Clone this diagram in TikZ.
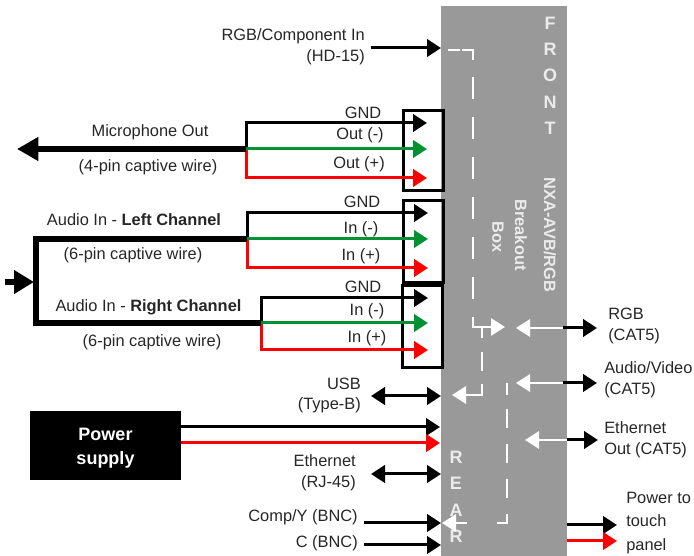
\documentclass[tikz,border=0pt]{standalone}
\usepackage{fontspec}
\setmainfont{Liberation Sans}
\usetikzlibrary{arrows.meta, positioning}
\definecolor{panelgray}{RGB}{153,153,153}
\definecolor{wiregreen}{RGB}{0,146,50}
\tikzstyle{panel} = [rectangle, fill=panelgray, minimum width=94.5pt, minimum height=412.5pt, inner sep=0pt]
\tikzstyle{port} = [rectangle, draw=black, line width=2.25pt, minimum width=30pt, inner sep=0pt, outer sep=0pt]
\tikzstyle{supply} = [rectangle, fill=black, text=white, font=\fontsize{13.5}{18}\selectfont\bfseries, align=center, minimum width=113pt, minimum height=52pt, inner sep=0pt]
\tikzstyle{label} = [font=\fontsize{12.3}{15.7}\selectfont, text=black!85, inner sep=0pt, align=center]
\tikzstyle{paneltext} = [font=\fontsize{12.3}{13}\selectfont\bfseries, text=white!92!black, inner sep=0pt]
\tikzstyle{letter} = [font=\fontsize{13.5}{14}\selectfont\bfseries, text=white!92!black, inner sep=0pt]
\tikzstyle{wire} = [line width=2.25pt, -{Triangle[length=10.5pt,width=13pt]}]
\tikzstyle{both} = [line width=2.25pt, {Triangle[length=10.5pt,width=13pt]}-{Triangle[length=10.5pt,width=13pt]}]
\tikzstyle{cable} = [line width=4pt]
\tikzstyle{inner} = [white, line width=1.5pt]
\tikzstyle{innertip} = [white, line width=1.5pt, -{Triangle[length=10.5pt,width=13pt]}]
\begin{document}
\begin{tikzpicture}[x=0.75pt, y=-0.75pt]
\useasboundingbox (0,0) rectangle (694,556);
% Define nodes
\node (breakout) [panel] at (504,281) {};
\node (micport) [port, minimum height=60pt] at (423,151) {};
\node (leftport) [port, minimum height=61.5pt] at (423,242) {};
\node (rightport) [port, minimum height=61.5pt] at (422,327) {};
\node (power) [supply] at (105.5,445.5) {\rule{0pt}{12.7pt}Power\\supply};
% Front and rear letters
\node [letter] at (550,23) {F};
\node [letter] at (550,49) {R};
\node [letter] at (550,75) {O};
\node [letter] at (550,102) {N};
\node [letter] at (550,128) {T};
\node [letter] at (456,457) {R};
\node [letter] at (456,483) {E};
\node [letter] at (456,510) {A};
\node [letter] at (456,536) {R};
\node [paneltext, rotate=-90] at (550,235) {NXA-AVB/RGB};
\node [paneltext, rotate=-90] at (521,235) {Breakout};
\node [paneltext, rotate=-90] at (498,237) {Box};
% Labels
\node (hdlabel) [label, anchor=east, align=right] at (365,47) {RGB/Component In\\(HD-15)};
\node (micgnd) [label] at (363,113) {GND};
\node (micminus) [label] at (360,135) {Out (-)};
\node (micplus) [label] at (359,164) {Out (+)};
\node (leftgnd) [label] at (362,202) {GND};
\node (leftminus) [label] at (361,229) {In (-)};
\node (leftplus) [label] at (361,256) {In (+)};
\node (rightgnd) [label] at (363,287) {GND};
\node (rightminus) [label] at (367,311) {In (-)};
\node (rightplus) [label] at (367,338) {In (+)};
\node (miclabel) [label] at (150,132) {Microphone Out};
\node (micwire) [label] at (148,167) {(4-pin captive wire)};
\node (leftlabel) [label] at (134,220) {Audio In - \textbf{Left Channel}};
\node (leftwire) [label] at (133,255) {(6-pin captive wire)};
\node (rightlabel) [label] at (148.5,307) {Audio In - \textbf{Right Channel}};
\node (rightwire) [label] at (152,342) {(6-pin captive wire)};
\node (usblabel) [label, anchor=east, align=right] at (361,395.5) {USB\\(Type-B)};
\node (ethlabel) [label, anchor=east, align=right] at (356,472.5) {Ethernet\\(RJ-45)};
\node (complabel) [label, anchor=east] at (358,517) {Comp/Y (BNC)};
\node (clabel) [label, anchor=east] at (358,543) {C (BNC)};
\node (rgblabel) [label, anchor=west, align=left] at (608,326) {RGB\\(CAT5)};
\node (avlabel) [label, anchor=west, align=left] at (604,380) {Audio/Video\\(CAT5)};
\node (ethout) [label, anchor=west, align=left] at (604,439.5) {Ethernet\\Out (CAT5)};
\node (touch) [label, anchor=west, align=left, font=\fontsize{12.3}{17.5}\selectfont] at (626,523) {Power to\\touch\\panel};
% Define coordinates
\coordinate (hdstart) at (371,48);
\coordinate (hdend) at (441,48);
\coordinate (micjoin) at (246,149);
\coordinate (micblack) at (246,123);
\coordinate (micred) at (246,178);
\coordinate (micout) at (17,149);
\coordinate (leftjoin) at (247,239);
\coordinate (leftblack) at (247,213);
\coordinate (leftred) at (247,268);
\coordinate (rightjoin) at (261,323);
\coordinate (rightblack) at (261,298);
\coordinate (rightred) at (261,350);
\coordinate (audiotop) at (36,239);
\coordinate (audiobottom) at (36,323);
\coordinate (audioin) at (5,282);
\coordinate (audiomid) at (34,282);
\coordinate (usbleft) at (371,396);
\coordinate (usbright) at (441,396);
\coordinate (ethleft) at (371,474);
\coordinate (ethright) at (441,474);
\coordinate (compstart) at (364,523);
\coordinate (compend) at (441,523);
\coordinate (cstart) at (364,545);
\coordinate (cend) at (441,545);
\coordinate (rgbedge) at (563,328);
\coordinate (avedge) at (563,383);
\coordinate (ethedge) at (567,440);
% Connect nodes with arrows
\draw [wire] (hdstart) -- (hdend);
\draw [wire, red] (micjoin) -- (micred) -- (427,178);
\draw [wire] (micjoin) -- (micblack) -- (427,123);
\draw [wire, wiregreen] (micjoin) -- (427,149);
\draw [wire, red] (leftjoin) -- (leftred) -- (428,268);
\draw [wire] (leftjoin) -- (leftblack) -- (428,213);
\draw [wire, wiregreen] (leftjoin) -- (428,239);
\draw [wire, red] (rightjoin) -- (rightred) -- (428,350);
\draw [wire] (rightjoin) -- (rightblack) -- (428,298);
\draw [wire, wiregreen] (rightjoin) -- (428,323);
\draw [cable, -{Triangle[length=16pt,width=17pt]}] (micjoin) -- (micout);
\draw [cable, line join=miter] (leftjoin) -- (audiotop) -- (audiobottom) -- (rightjoin);
\draw [cable, -{Triangle[length=15pt,width=17pt]}] (audioin) -- (audiomid);
\draw [both] (usbleft) -- (usbright);
\draw [wire] (power.east |- 0,427) -- (440,427);
\draw [wire, red] (power.east |- 0,443) -- (440,443);
\draw [both] (ethleft) -- (ethright);
\draw [wire] (compstart) -- (compend);
\draw [wire] (cstart) -- (cend);
% Paths inside the box
\draw [inner] (448,50) -- (460,50);
\draw [inner] (462,50) -- (473,50) -- (473,60);
\draw [inner, dash pattern=on 16.5pt off 13.5pt] (473,77) -- (473,300);
\draw [innertip] (473,317) -- (473,327) -- (505,327);
\draw [inner] (482,328) -- (482,338);
\draw [inner] (482,352) -- (482,371);
\draw [innertip] (482,384) -- (482,395) -- (452,395);
\draw [inner] (507,383) -- (507,395);
\draw [inner, dash pattern=on 14.25pt off 12pt] (507,409) -- (507,523) -- (496,523);
\draw [innertip] (467,523) -- (442,523);
\draw [innertip] (rgbedge) -- (516,328);
\draw [innertip] (avedge) -- (516,383);
\draw [innertip] (ethedge) -- (525,440);
\draw [wire] (rgbedge) -- (597,328);
\draw [wire] (avedge) -- (597,383);
\draw [wire] (ethedge) -- (598,440);
\draw [wire] (breakout.east |- 0,525) -- (617,525);
\draw [wire, red] (breakout.east |- 0,541) -- (617,541);
\end{tikzpicture}
\end{document}
